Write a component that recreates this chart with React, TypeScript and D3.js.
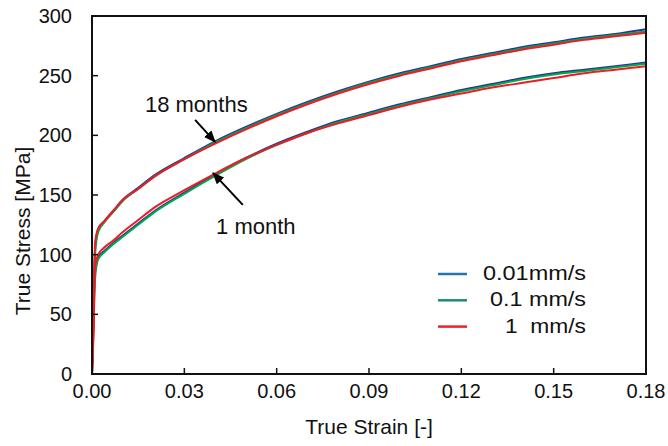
import React from "react";
import * as d3 from "d3";

const strains = [0, 0.0005, 0.001, 0.002, 0.004, 0.007, 0.01, 0.015, 0.02, 0.03, 0.04, 0.05, 0.06, 0.07, 0.08, 0.09, 0.1, 0.11, 0.12, 0.13, 0.14, 0.15, 0.16, 0.17, 0.18];

const m18_001 = [0, 60, 105, 121, 128, 137, 146, 156, 166, 181, 195, 207, 218, 228, 237, 245, 252, 258, 264, 269, 274, 278, 282, 285, 289];
const m18_01 = [0, 50, 100, 119, 127, 136, 145, 155, 165, 180, 194, 206, 217, 227, 236, 244, 251, 257, 263, 268, 273, 277, 281, 284, 287];
const m18_1 = [0, 40, 110, 122, 128, 137, 146, 155, 165, 180, 193, 205, 216, 226, 235, 243, 250, 256, 262, 267, 272, 276, 280, 283, 286];

const m1_001 = [0, 55, 85, 98, 103, 110, 116, 126, 136, 152, 167, 181, 193, 203, 212, 219, 226, 232, 238, 243, 248, 252, 255, 258, 261];
const m1_01 = [0, 45, 80, 96, 102, 109, 115, 125, 135, 151, 166, 180, 192, 202, 211, 218, 225, 231, 237, 242, 247, 251, 254, 257, 260];
const m1_1 = [0, 35, 90, 100, 106, 112, 119, 129, 139, 154, 168, 181, 192, 202, 210, 217, 224, 230, 235, 240, 244, 248, 252, 255, 258];

const xTicks = [0, 0.03, 0.06, 0.09, 0.12, 0.15, 0.18];
const yTicks = [0, 50, 100, 150, 200, 250, 300];

const legendLabels = ["0.01mm/s", "0.1 mm/s", "1  mm/s"];
const legendColors = ["#2271b0", "#1f8a80", "#ee2226"];
const curveColors = ["#2e3192", "#00a651", "#ed1c24"];

const series = [
  { values: m18_001, color: 0 },
  { values: m1_001, color: 0 },
  { values: m18_01, color: 1 },
  { values: m1_01, color: 1 },
  { values: m18_1, color: 2 },
  { values: m1_1, color: 2 },
];

const annotations = [
  { text: "18 months", tx: 0.0172, ty: 219.6, x0: 0.0335, y0: 213, x1: 0.04, y1: 194.5 },
  { text: "1 month", tx: 0.0403, ty: 117.4, x0: 0.049, y0: 141.7, x1: 0.0393, y1: 168.5 },
];

export default function App() {
  const W = 668, H = 446;
  const left = 92, right = 646, top = 16, bottom = 374;
  const x = d3.scaleLinear().domain([0, 0.18]).range([left, right]);
  const y = d3.scaleLinear().domain([0, 300]).range([bottom, top]);
  const line = d3
    .line<number>()
    .x((_, i) => x(strains[i]))
    .y((d) => y(d))
    .curve(d3.curveMonotoneX);
  const font = "'Liberation Sans', Arial, sans-serif";
  const legendWidths = [103, 96, 81];

  return (
    <svg width={W} height={H} style={{ position: "absolute", left: 0, top: 0, background: "#fff" }} fontFamily={font}>
      <defs>
        <clipPath id="plot">
          <rect x={left} y={top} width={right - left} height={bottom - top} />
        </clipPath>
        <marker id="arr" viewBox="0 0 12 10" refX="11" refY="5" markerWidth="12" markerHeight="10" markerUnits="userSpaceOnUse" orient="auto">
          <path d="M0,0 L12,5 L0,10 z" fill="#000" />
        </marker>
      </defs>
      <rect x={0} y={0} width={W} height={H} fill="#fff" />
      <g clipPath="url(#plot)">
        {series.map((s, i) => (
          <path key={i} d={line(s.values) || ""} fill="none" stroke={curveColors[s.color]} strokeWidth={2} />
        ))}
      </g>
      <rect x={left} y={top} width={right - left} height={bottom - top} fill="none" stroke="#111" strokeWidth={2} />
      {yTicks.map((t) => (
        <g key={"y" + t}>
          {t > 0 && t < 300 && <line x1={left} x2={left + 6} y1={y(t)} y2={y(t)} stroke="#111" strokeWidth={1.5} />}
          <text x={72} y={y(t)} dy="0.35em" textAnchor="end" fontSize={20} fill="#111">
            {t}
          </text>
        </g>
      ))}
      {xTicks.map((t) => (
        <g key={"x" + t}>
          {t > 0 && t < 0.18 && <line x1={x(t)} x2={x(t)} y1={bottom} y2={bottom - 6} stroke="#111" strokeWidth={1.5} />}
          <text x={x(t)} y={398} textAnchor="middle" fontSize={20} fill="#111">
            {t.toFixed(2)}
          </text>
        </g>
      ))}
      <text x={(left + right) / 2} y={434} textAnchor="middle" fontSize={21} fill="#111">
        True Strain [-]
      </text>
      <text transform={`translate(30,231) rotate(-90)`} textAnchor="middle" fontSize={21} fill="#111">
        True Stress [MPa]
      </text>
      {annotations.map((a, i) => (
        <g key={"a" + i}>
          <text x={x(a.tx)} y={y(a.ty)} fontSize={22} fill="#111">
            {a.text}
          </text>
          <line x1={x(a.x0)} y1={y(a.y0)} x2={x(a.x1)} y2={y(a.y1)} stroke="#000" strokeWidth={2} markerEnd="url(#arr)" />
        </g>
      ))}
      {legendLabels.map((l, i) => (
        <g key={"l" + i}>
          <line x1={438} x2={467} y1={274 + i * 26.3} y2={274 + i * 26.3} stroke={legendColors[i]} strokeWidth={2.5} />
          <text
            x={586 - legendWidths[i]}
            y={280 + i * 26.3}
            fontSize={20}
            fill="#111"
            textLength={legendWidths[i]}
            lengthAdjust="spacingAndGlyphs"
            style={{ whiteSpace: "pre" }}
          >
            {l}
          </text>
        </g>
      ))}
    </svg>
  );
}
